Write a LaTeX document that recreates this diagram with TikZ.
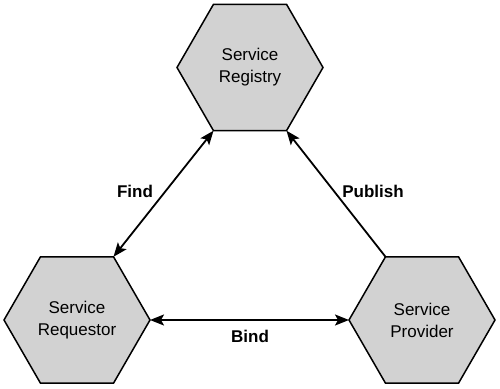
\documentclass[tikz,border=0pt]{standalone}
\usepackage{fontspec}
\setmainfont{Liberation Sans}
\usetikzlibrary{arrows.meta,shapes.geometric}

\begin{document}
\begin{tikzpicture}[x=1pt,y=1pt,
  hexa/.style={regular polygon, regular polygon sides=6, minimum size=146pt,
    draw, line width=1.5pt, fill=gray!35, inner sep=0pt, outer sep=0pt,
    align=center, font=\fontsize{17}{22}\selectfont},
  link/.style={line width=1.8pt, {Stealth[length=14pt,width=11pt,inset=3pt]}-{Stealth[length=14pt,width=11pt,inset=3pt]}},
  lab/.style={font=\fontsize{17}{20}\selectfont\bfseries}]
\useasboundingbox (0,0) rectangle (500,388);
\node[hexa] (reg) at (250,320.5) {Service\\Registry};
\node[hexa] (req) at (77,68) {Service\\Requestor};
\node[hexa] (prov) at (422,68) {Service\\Provider};
% connectors
\draw[link] (reg.240) -- (req.60);
\draw[link, {Stealth[length=14pt,width=11pt,inset=3pt]}-] (reg.300) -- (prov.120);
\draw[link] (req.0) -- (prov.180);
\node[lab] (find) at (135,197) {Find};
\node[lab] (pub) at (373,197) {Publish};
\node[lab] (bind) at (250,52) {Bind};
\end{tikzpicture}
\end{document}
